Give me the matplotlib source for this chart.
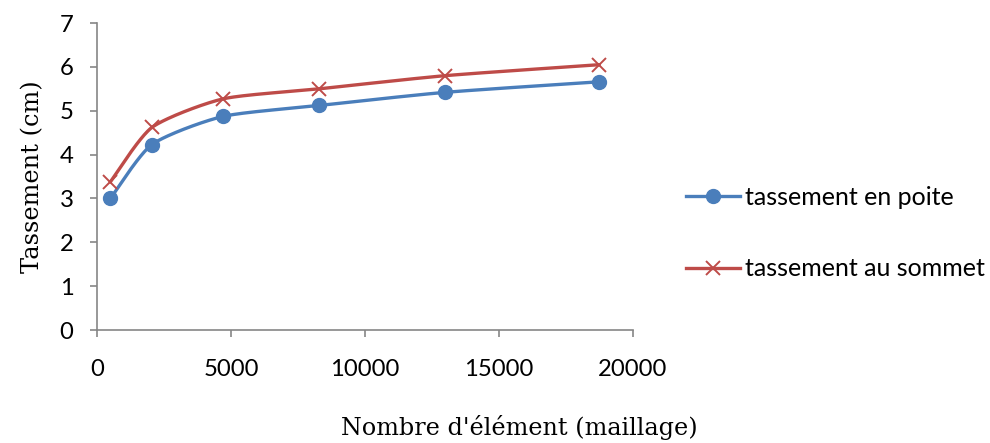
import numpy as np
import matplotlib
matplotlib.use("Agg")
import matplotlib.pyplot as plt
from matplotlib.lines import Line2D

# Mesh refinement study: settlement vs number of elements
elements = [500, 2050, 4700, 8300, 13000, 18750]
tassement_pointe = [3.00, 4.23, 4.87, 5.12, 5.42, 5.66]
tassement_sommet = [3.38, 4.62, 5.27, 5.50, 5.80, 6.05]
x_ticks = [0, 5000, 10000, 15000, 20000]
y_ticks = [0, 1, 2, 3, 4, 5, 6, 7]

blue = "#4A7EBB"
red = "#BE4B48"


def smooth(x, y, n=40):
    """Cardinal-spline smoothing through every data point."""
    x = np.asarray(x, float)
    y = np.asarray(y, float)
    px = np.concatenate([[x[0]], x, [x[-1]]])
    py = np.concatenate([[y[0]], y, [y[-1]]])
    xs, ys = [], []
    t = np.linspace(0, 1, n)
    for i in range(1, len(px) - 2):
        p0, p1, p2, p3 = (np.array([px[j], py[j]]) for j in (i - 1, i, i + 1, i + 2))
        m1 = (p2 - p0) / 3.0
        m2 = (p3 - p1) / 3.0
        h00 = 2 * t**3 - 3 * t**2 + 1
        h10 = t**3 - 2 * t**2 + t
        h01 = -2 * t**3 + 3 * t**2
        h11 = t**3 - t**2
        pts = (np.outer(h00, p1) + np.outer(h10, m1)
               + np.outer(h01, p2) + np.outer(h11, m2))
        xs.extend(pts[:, 0])
        ys.extend(pts[:, 1])
    return np.array(xs), np.array(ys)


tick_font = "Lato"
serif_font = "DejaVu Serif"

fig = plt.figure(figsize=(9.9, 4.43), dpi=100)
ax = fig.add_axes([0.098, 0.255, 0.541, 0.693])

sx, sy = smooth(elements, tassement_pointe)
ax.plot(sx, sy, color=blue, lw=2.4, solid_capstyle="round")
ax.plot(elements, tassement_pointe, "o", color=blue, ms=10)

sx, sy = smooth(elements, tassement_sommet)
ax.plot(sx, sy, color=red, lw=2.4, solid_capstyle="round")
ax.plot(elements, tassement_sommet, "x", color=red, ms=10, mew=1.4)

ax.set_xlim(0, 20000)
ax.set_ylim(0, 7)
ax.set_xticks(x_ticks)
ax.set_yticks(y_ticks)
for s in ("top", "right"):
    ax.spines[s].set_visible(False)
for s in ("left", "bottom"):
    ax.spines[s].set_color("#868686")
    ax.spines[s].set_linewidth(1.2)
ax.tick_params(axis="both", colors="#868686", length=5, width=1.2, labelcolor="black",
               labelsize=17.2)
ax.tick_params(axis="x", pad=16)
ax.tick_params(axis="y", pad=12)
for lab in ax.get_xticklabels() + ax.get_yticklabels():
    lab.set_fontfamily(tick_font)

ax.set_ylabel("Tassement (cm)", fontsize=17.3, family=serif_font, labelpad=11)
fig.text(0.525, 0.035, "Nombre d'élément (maillage)", fontsize=17.2, family=serif_font,
         ha="center", va="center")

handles = [
    Line2D([], [], color=blue, lw=2.4, marker="o", ms=10),
    Line2D([], [], color=red, lw=2.4, marker="x", ms=10, mew=1.4),
]
fig.legend(handles, ["tassement en poite", "tassement au sommet"],
           loc="center left", bbox_to_anchor=(0.693, 0.474), frameon=False,
           borderpad=0, borderaxespad=0,
           prop={"family": tick_font, "size": 18}, labelspacing=1.95,
           handlelength=2.16, handletextpad=0.2)

fig.savefig("out.png", dpi=100)
